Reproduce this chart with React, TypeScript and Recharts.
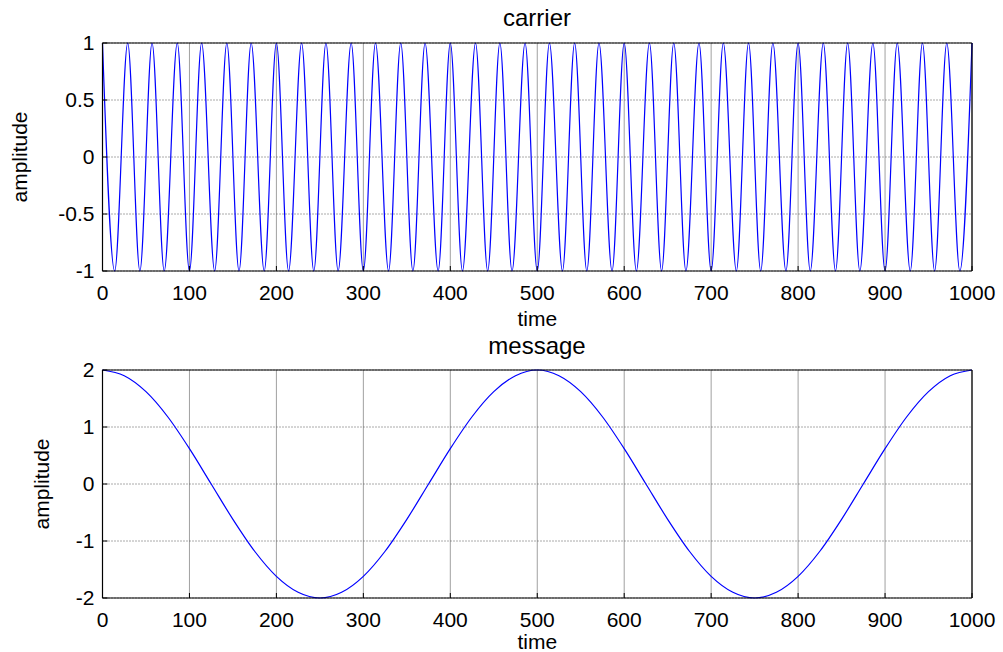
import React from 'react';
import { LineChart, Line, XAxis, YAxis, CartesianGrid, Label } from 'recharts';

// carrier: times of the peaks and troughs
const carrierTime = [
  0, 14, 29, 43, 57, 71, 86, 100, 114, 129, 143, 157, 171, 186, 200, 214, 229, 243,
  257, 271, 286, 300, 314, 329, 343, 357, 371, 386, 400, 414, 429, 443, 457, 471,
  486, 500, 514, 529, 543, 557, 571, 586, 600, 614, 629, 643, 657, 671, 686, 700,
  714, 729, 743, 757, 771, 786, 800, 814, 829, 843, 857, 871, 886, 900, 914, 929,
  943, 957, 971, 986, 1000,
];
const carrierAmp = [
  1, -1, 1, -1, 1, -1, 1, -1, 1, -1, 1, -1, 1, -1, 1, -1, 1, -1,
  1, -1, 1, -1, 1, -1, 1, -1, 1, -1, 1, -1, 1, -1, 1, -1,
  1, -1, 1, -1, 1, -1, 1, -1, 1, -1, 1, -1, 1, -1, 1, -1,
  1, -1, 1, -1, 1, -1, 1, -1, 1, -1, 1, -1, 1, -1, 1, -1,
  1, -1, 1, -1, 1,
];

// message: read every 25 time units from the bottom panel
const messageTime = [
  0, 25, 50, 75, 100, 125, 150, 175, 200, 225, 250, 275, 300, 325, 350, 375, 400,
  425, 450, 475, 500, 525, 550, 575, 600, 625, 650, 675, 700, 725, 750, 775, 800,
  825, 850, 875, 900, 925, 950, 975, 1000,
];
const messageAmp = [
  2.0, 1.9, 1.62, 1.18, 0.62, 0.0, -0.62, -1.18, -1.62, -1.9, -2.0, -1.9, -1.62,
  -1.18, -0.62, 0.0, 0.62, 1.18, 1.62, 1.9, 2.0, 1.9, 1.62, 1.18, 0.62, 0.0,
  -0.62, -1.18, -1.62, -1.9, -2.0, -1.9, -1.62, -1.18, -0.62, 0.0, 0.62, 1.18,
  1.62, 1.9, 2.0,
];

const timeTicks = [0, 100, 200, 300, 400, 500, 600, 700, 800, 900, 1000];
const carrierTicks = [-1, -0.5, 0, 0.5, 1];
const messageTicks = [-2, -1, 0, 1, 2];

const carrierData = carrierTime.map((t, i) => ({ time: t, amplitude: carrierAmp[i] }));
const messageData = messageTime.map((t, i) => ({ time: t, amplitude: messageAmp[i] }));

const FONT = '"Liberation Sans", Arial, sans-serif';
const tickStyle = { fill: '#000', fontSize: 21, fontFamily: FONT };
const frame = { stroke: '#000', strokeWidth: 1.2 };

interface PanelProps {
  data: { time: number; amplitude: number }[];
  yTicks: number[];
  yDomain: [number, number];
  ylabelOffset: number;
  xlabelOffset: number;
}

function Panel({ data, yTicks, yDomain, ylabelOffset, xlabelOffset }: PanelProps) {
  return (
    <LineChart width={1003} height={340} data={data} margin={{ top: 42, right: 30, left: 0, bottom: 13 }}>
      <CartesianGrid horizontal={false} stroke="#a0a0a0" strokeWidth={1} />
      <CartesianGrid vertical={false} stroke="#555" strokeWidth={1} strokeDasharray="1 2" />
      <XAxis
        dataKey="time"
        type="number"
        domain={[0, 1000]}
        ticks={timeTicks}
        interval={0}
        height={56}
        tickSize={-5}
        tickMargin={19}
        tickLine={{ stroke: '#000' }}
        axisLine={frame}
        tick={tickStyle}
      >
        <Label value="time" position="insideBottom" offset={xlabelOffset} style={{ fill: '#000', fontSize: 21, fontFamily: FONT }} />
      </XAxis>
      {/* top and right axes only draw the box and the inward ticks */}
      <XAxis
        xAxisId="top"
        orientation="top"
        dataKey="time"
        type="number"
        domain={[0, 1000]}
        allowDataOverflow
        ticks={timeTicks}
        interval={0}
        height={1}
        tickSize={-5}
        tick={false}
        tickLine={{ stroke: '#000' }}
        axisLine={frame}
      />
      <YAxis
        type="number"
        domain={yDomain}
        ticks={yTicks}
        interval={0}
        width={102.5}
        tickSize={-5}
        tickMargin={13}
        tickLine={{ stroke: '#000' }}
        axisLine={frame}
        tick={tickStyle}
      >
        <Label
          value="amplitude"
          angle={-90}
          position="insideLeft"
          offset={ylabelOffset}
          style={{ fill: '#000', fontSize: 21, fontFamily: FONT, textAnchor: 'middle' }}
        />
      </YAxis>
      <YAxis
        yAxisId="right"
        orientation="right"
        type="number"
        domain={yDomain}
        allowDataOverflow
        ticks={yTicks}
        interval={0}
        width={1}
        tickSize={-5}
        tick={false}
        tickLine={{ stroke: '#000' }}
        axisLine={frame}
      />
      <Line
        type="monotone"
        dataKey="amplitude"
        stroke="#0000ff"
        strokeWidth={1.2}
        dot={false}
        isAnimationActive={false}
      />
      <Line
        xAxisId="top"
        yAxisId="right"
        type="monotone"
        dataKey="amplitude"
        stroke="none"
        dot={false}
        activeDot={false}
        legendType="none"
        isAnimationActive={false}
      />
    </LineChart>
  );
}

const titleStyle: React.CSSProperties = {
  position: 'absolute',
  left: 102,
  width: 870,
  textAlign: 'center',
  fontFamily: FONT,
  fontSize: 24,
  lineHeight: '24px',
  color: '#000',
};

export default function App() {
  return (
    <div style={{ position: 'absolute', left: 0, top: 0, width: 1003, height: 652, overflow: 'hidden', background: '#fff' }}>
      <div style={{ position: 'absolute', left: 0, top: 0 }}>
        <Panel data={carrierData} yTicks={carrierTicks} yDomain={[-1, 1]} ylabelOffset={20} xlabelOffset={1} />
      </div>
      <div style={{ position: 'absolute', left: 0, top: 327 }}>
        <Panel data={messageData} yTicks={messageTicks} yDomain={[-2, 2]} ylabelOffset={42} xlabelOffset={5} />
      </div>
      <div style={{ ...titleStyle, top: 6 }}>carrier</div>
      <div style={{ ...titleStyle, top: 334 }}>message</div>
    </div>
  );
}
